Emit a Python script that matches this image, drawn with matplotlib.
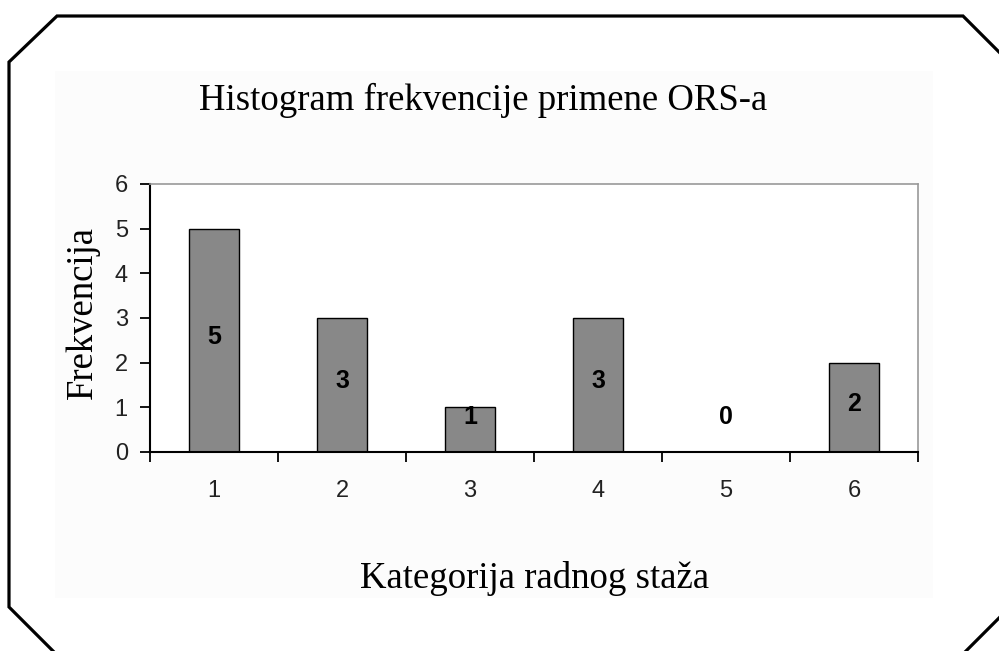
import matplotlib
matplotlib.use("Agg")
import matplotlib.pyplot as plt
from matplotlib.lines import Line2D
from matplotlib.patches import Rectangle
import numpy as np

categories = ["1", "2", "3", "4", "5", "6"]
values = [5, 3, 1, 3, 0, 2]
y_ticks = [0, 1, 2, 3, 4, 5, 6]

W, H = 999, 651
fig = plt.figure(figsize=(W / 100, H / 100), dpi=100)
fig.patch.set_facecolor("white")

def fx(px):
    return px / W

def fy(py):
    return 1 - py / H

# light panel
fig.patches.append(Rectangle((fx(55), fy(598)), fx(933) - fx(55), fy(71) - fy(598),
                             transform=fig.transFigure, facecolor="#fcfcfc",
                             edgecolor="none", zorder=-5))

# octagon outline
pts1 = [(55, 653), (9, 607), (9, 62), (57, 16), (963, 16), (1003, 56)]
fig.lines.append(Line2D([fx(p[0]) for p in pts1], [fy(p[1]) for p in pts1],
                        transform=fig.transFigure, color="black", lw=2.3,
                        solid_joinstyle="miter", zorder=5))
pts2 = [(964, 653), (1002, 615)]
fig.lines.append(Line2D([fx(p[0]) for p in pts2], [fy(p[1]) for p in pts2],
                        transform=fig.transFigure, color="black", lw=2.3, zorder=5))

ax = fig.add_axes([fx(150), fy(452), fx(918) - fx(150), fy(184) - fy(452)])
ax.set_zorder(2)
ax.set_facecolor("white")
x = np.arange(len(categories))
ax.bar(x, values, width=0.39, color="#888888", edgecolor="black", linewidth=1.0, zorder=2)
ax.set_xlim(-0.5, len(categories) - 0.5)
ax.set_ylim(0, 6)

ax.set_yticks(y_ticks)
ax.set_yticklabels([str(t) for t in y_ticks])
ax.set_xticks(x)
ax.set_xticklabels(categories)
ax.set_xticks(np.arange(-0.5, len(categories)), minor=True)
ax.tick_params(axis="x", which="major", length=0, pad=20, labelsize=17, labelcolor="#222222")
ax.tick_params(axis="x", which="minor", length=7, width=1.3, direction="out", color="black")
ax.tick_params(axis="y", which="major", length=7, width=1.3, direction="out",
               pad=9, labelsize=17, labelcolor="#222222")
for lab in ax.get_xticklabels() + ax.get_yticklabels():
    lab.set_fontfamily("Liberation Sans")

for s in ["left", "bottom"]:
    ax.spines[s].set_color("black")
    ax.spines[s].set_linewidth(1.5)
for s in ["top", "right"]:
    ax.spines[s].set_color("#999999")
    ax.spines[s].set_linewidth(1.2)

for xi, v in zip(x, values):
    ax.text(xi, max(v / 2 + 0.08, 0.78), str(v), ha="center", va="center",
            fontsize=18, fontweight="bold", family="Liberation Sans", color="black", zorder=3)

fig.text(fx(483), fy(100), "Histogram frekvencije primene ORS-a", ha="center", va="center",
         fontsize=26.5, family="Liberation Serif", color="black")
fig.text(fx(535), fy(578), "Kategorija radnog staža", ha="center", va="center",
         fontsize=26.5, family="Liberation Serif", color="black")
fig.text(fx(83), fy(313), "Frekvencija", ha="center", va="center", rotation=90,
         fontsize=26.5, family="Liberation Serif", color="black")

fig.savefig("out.png", dpi=100, facecolor="white")
